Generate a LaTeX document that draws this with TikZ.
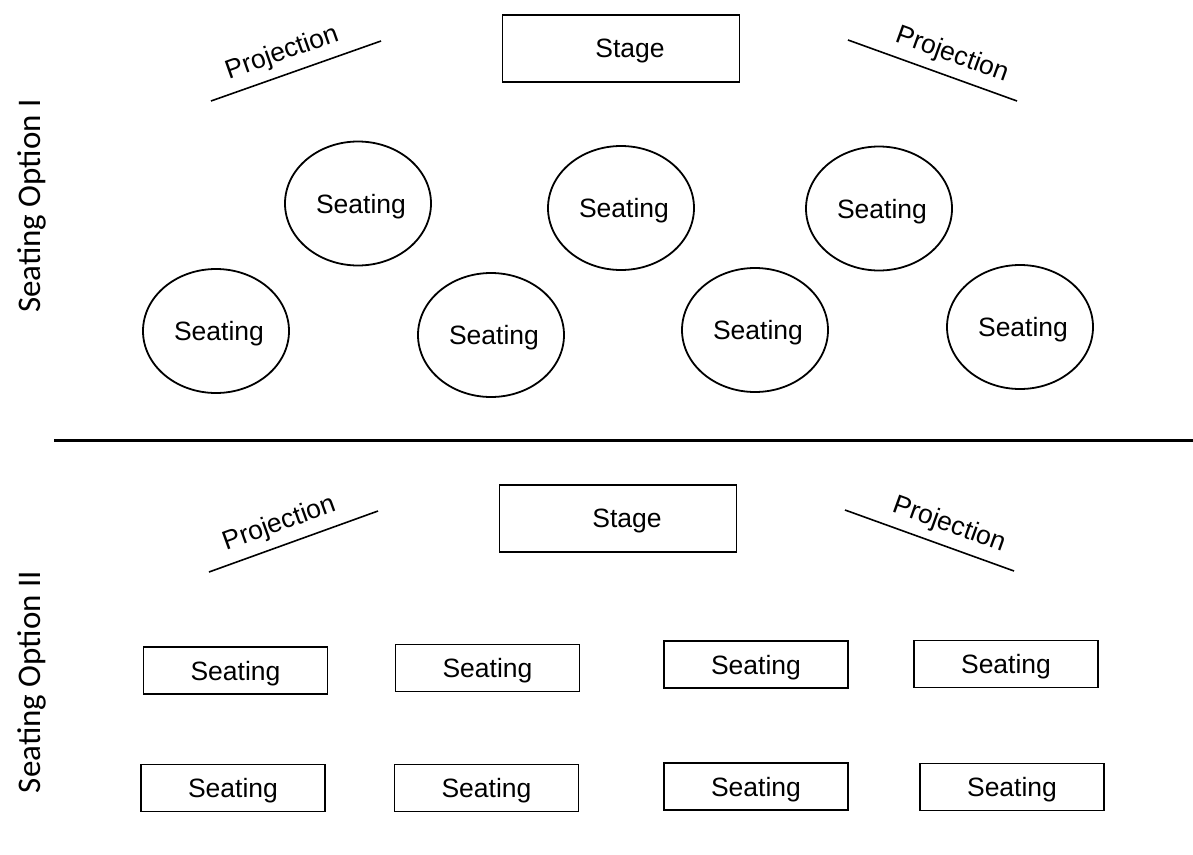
\documentclass[tikz,border=0pt]{standalone}
\usepackage{fontspec}
\setmainfont{Liberation Sans}
\newfontfamily\sidefont{Carlito}
\usetikzlibrary{shapes.geometric}
\begin{document}
\begin{tikzpicture}[x=1pt,y=-1pt,
  lbl/.style={font=\fontsize{26.5}{30}\selectfont},
  boxlbl/.style={lbl, text depth=0pt, line width=1.8pt, draw, inner sep=0pt},
  seatc/.style={boxlbl, ellipse, minimum width=146pt, minimum height=124pt},
  seatr/.style={boxlbl, rectangle, minimum width=184pt, minimum height=47pt},
  stagebox/.style={boxlbl, rectangle, minimum width=237pt, minimum height=67pt},
  projline/.style={line width=1.6pt},
  projtxt/.style={lbl, sloped, above, inner sep=8pt},
  sidelbl/.style={font=\sidefont\fontsize{33}{36}\selectfont, rotate=90, anchor=base, inner sep=0pt},
  divider/.style={line width=3pt}]
\fill[white] (0,0) rectangle (1193,854);
\useasboundingbox (0,0) rectangle (1193,854);

% ---- Option I ----
\node[sidelbl] (side1) at (40,206) {Seating Option I};
\coordinate (p1a) at (211,101);
\coordinate (p1b) at (381,41);
\draw[projline] (p1a) -- (p1b) node[projtxt, pos=0.46] (p1t) {Projection};
\coordinate (p2a) at (848,40);
\coordinate (p2b) at (1017,101);
\draw[projline] (p2a) -- (p2b) node[projtxt, pos=0.574] (p2t) {Projection};
\node[stagebox] (stage1) at (621,48.5) {\hspace*{18pt}Stage};

\node[seatc] (c1) at (358,203.5) {\hspace*{6pt}Seating};
\node[seatc] (c2) at (621,208) {\hspace*{6pt}Seating};
\node[seatc] (c3) at (879,208.5) {\hspace*{6pt}Seating};
\node[seatc] (c4) at (216,331) {\hspace*{6pt}Seating};
\node[seatc] (c5) at (491,335) {\hspace*{6pt}Seating};
\node[seatc] (c6) at (755,330) {\hspace*{6pt}Seating};
\node[seatc] (c7) at (1020,327) {\hspace*{6pt}Seating};

% ---- divider ----
\coordinate (divL) at (54,440);
\coordinate (divR) at (1193,440);
\draw[divider] (divL) -- (divR);

% ---- Option II ----
\node[sidelbl] (side2) at (40,682) {Seating Option II};
\coordinate (p3a) at (209,572);
\coordinate (p3b) at (378,511);
\draw[projline] (p3a) -- (p3b) node[projtxt, pos=0.46] (p3t) {Projection};
\coordinate (p4a) at (845,510);
\coordinate (p4b) at (1014,571);
\draw[projline] (p4a) -- (p4b) node[projtxt, pos=0.574] (p4t) {Projection};
\node[stagebox] (stage2) at (618,518.5) {\hspace*{18pt}Stage};

\node[seatr] (r1) at (235.5,670.5) {Seating};
\node[seatr] (r2) at (487.5,668) {Seating};
\node[seatr] (r3) at (756,664.5) {Seating};
\node[seatr] (r4) at (1006,664) {Seating};
\node[seatr] (r5) at (233,788) {Seating};
\node[seatr] (r6) at (486.5,788) {Seating};
\node[seatr] (r7) at (756,786.5) {Seating};
\node[seatr] (r8) at (1012,787) {Seating};
\end{tikzpicture}
\end{document}
